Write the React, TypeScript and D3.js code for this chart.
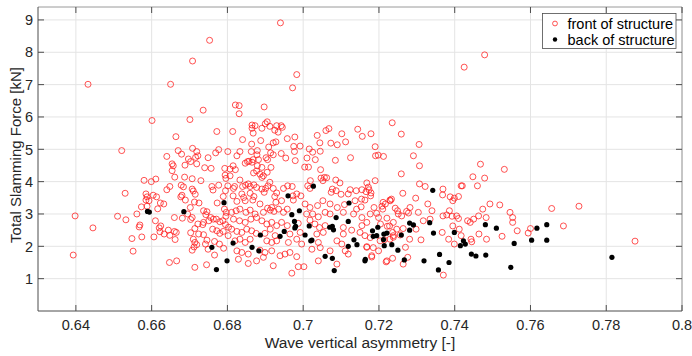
import React from "react";
import * as d3 from "d3";

const xDomain: [number, number] = [0.63, 0.8];
const yDomain: [number, number] = [0, 9.4];
const xTicks = [0.64, 0.66, 0.68, 0.7, 0.72, 0.74, 0.76, 0.78, 0.8];
const yTicks = [1, 2, 3, 4, 5, 6, 7, 8, 9];
const xLabel = "Wave vertical asymmetry [-]";
const yLabel = "Total Slamming Force [kN]";
const seriesNames = ["front of structure", "back of structure"];

// front of structure (red open circles): [asymmetry, force]
const frontData: [number, number][] = [
  [0.6940, 8.91], [0.6753, 8.37], [0.6708, 7.73], [0.6432, 7.01], [0.6650, 7.01], [0.6983, 7.31], [0.6972, 6.90],
  [0.7479, 7.92], [0.7425, 7.54], [0.6736, 6.21], [0.6601, 5.89], [0.6821, 6.37], [0.6831, 6.35], [0.6831, 6.10],
  [0.6897, 6.31], [0.6701, 5.92], [0.6664, 5.39], [0.6521, 4.96], [0.6772, 5.55], [0.6814, 5.55], [0.6865, 5.75],
  [0.6865, 5.65], [0.6840, 5.30],
  [0.6670, 4.96], [0.6679, 4.85], [0.6708, 5.03], [0.6719, 4.93], [0.6722, 4.80], [0.6716, 4.75], [0.6749, 4.74],
  [0.6769, 4.89], [0.6777, 4.99], [0.6801, 4.93], [0.6640, 4.78], [0.6697, 4.70], [0.6703, 4.62], [0.6654, 4.55],
  [0.6657, 4.49], [0.6654, 4.34], [0.6688, 4.51], [0.6719, 4.55], [0.6740, 4.43], [0.6757, 4.41], [0.6793, 4.41],
  [0.6661, 4.14], [0.6687, 4.14], [0.6707, 4.09], [0.6730, 4.03], [0.6794, 4.20], [0.6796, 4.10], [0.6580, 4.04],
  [0.6599, 4.00], [0.6611, 4.08], [0.6648, 3.85], [0.6640, 3.75], [0.6678, 3.89], [0.6684, 3.84], [0.6707, 3.77],
  [0.6715, 3.61], [0.6710, 3.71], [0.6759, 3.85], [0.6762, 3.74], [0.6777, 3.89], [0.6789, 3.54], [0.6795, 3.72],
  [0.6801, 3.87], [0.6530, 3.64], [0.6588, 3.53], [0.6604, 3.58], [0.6613, 3.53], [0.6680, 3.58], [0.6677, 3.53],
  [0.6585, 3.62], [0.6585, 3.43], [0.6593, 3.41], [0.6623, 3.34], [0.6632, 3.31], [0.6573, 3.22], [0.6588, 3.24],
  [0.6616, 3.16], [0.6689, 3.43], [0.6702, 3.20], [0.6713, 3.37], [0.6725, 3.34], [0.6737, 3.10], [0.6746, 3.07],
  [0.6743, 2.98], [0.6773, 3.34], [0.6792, 3.15], [0.6797, 3.05], [0.6796, 2.93], [0.6398, 2.94], [0.6445, 2.57],
  [0.6393, 1.73], [0.6510, 2.93], [0.6532, 2.82], [0.6561, 3.00], [0.6569, 2.66], [0.6567, 2.60], [0.6610, 2.79],
  [0.6624, 2.63], [0.6620, 2.57], [0.6548, 2.24], [0.6574, 2.29], [0.6606, 2.29], [0.6551, 1.85], [0.6647, 1.50],
  [0.6666, 1.55], [0.6644, 2.50], [0.6622, 2.45], [0.6633, 2.38], [0.6660, 2.46], [0.6665, 2.43], [0.6648, 2.34],
  [0.6662, 2.21], [0.6660, 2.89], [0.6681, 2.87], [0.6695, 3.00], [0.6703, 2.83], [0.6707, 2.89], [0.6722, 2.69],
  [0.6735, 2.67], [0.6737, 2.74], [0.6751, 2.79], [0.6703, 2.42], [0.6714, 2.55], [0.6724, 2.38], [0.6737, 2.36],
  [0.6710, 2.22], [0.6714, 2.12], [0.6719, 2.05], [0.6712, 1.98], [0.6707, 1.88], [0.6742, 2.07], [0.6749, 1.91],
  [0.6763, 2.84], [0.6756, 2.89], [0.6771, 2.84], [0.6780, 2.76], [0.6788, 2.79], [0.6795, 2.67], [0.6803, 2.59],
  [0.6761, 2.53], [0.6772, 2.48], [0.6780, 2.40], [0.6789, 2.46], [0.6802, 2.33], [0.6746, 2.19], [0.6766, 2.15],
  [0.6779, 2.07], [0.6790, 1.94], [0.6766, 1.73], [0.6745, 1.43], [0.6714, 1.35],
  [0.7235, 5.82], [0.6873, 5.73], [0.6868, 5.50], [0.6900, 5.79], [0.6905, 5.85], [0.6912, 5.71], [0.6930, 5.73],
  [0.6942, 5.73], [0.6945, 5.68], [0.6934, 5.53], [0.6925, 5.59], [0.6891, 5.65], [0.6864, 5.16], [0.6888, 5.27],
  [0.6909, 5.07], [0.6921, 5.20], [0.6928, 5.23], [0.6958, 5.33], [0.6978, 5.38], [0.6992, 5.10], [0.6975, 5.09],
  [0.6977, 4.93], [0.7037, 5.43], [0.7060, 5.58], [0.7068, 5.64], [0.7102, 5.48], [0.7044, 5.20], [0.7073, 5.19],
  [0.7090, 5.14], [0.7112, 5.23], [0.7144, 5.62], [0.7156, 5.40], [0.7179, 5.48], [0.7016, 5.01], [0.7025, 4.91],
  [0.7045, 4.94], [0.7032, 4.68], [0.7010, 4.73], [0.7004, 4.45], [0.7014, 4.45], [0.7085, 4.66], [0.7125, 4.74],
  [0.7191, 4.80], [0.7198, 4.82], [0.7212, 4.78], [0.6942, 4.87], [0.6954, 4.73], [0.6979, 4.65], [0.6914, 4.89],
  [0.6921, 4.83], [0.6902, 4.74], [0.6906, 4.68], [0.6879, 4.96], [0.6878, 4.83], [0.6863, 4.93], [0.6868, 4.68],
  [0.6865, 4.60], [0.6857, 4.63], [0.6847, 4.57], [0.6853, 4.62], [0.6833, 4.93], [0.6825, 4.80], [0.6815, 4.49],
  [0.6821, 4.37], [0.6807, 4.39], [0.6882, 4.68], [0.6879, 4.49], [0.6891, 4.44], [0.6915, 4.44], [0.6905, 4.29],
  [0.6891, 4.13], [0.6886, 4.23], [0.6895, 4.18], [0.6877, 4.33], [0.6869, 4.27], [0.6833, 4.05], [0.6807, 4.18],
  [0.6912, 3.98], [0.6907, 3.87], [0.7019, 4.03], [0.7046, 4.37], [0.7047, 4.11], [0.7056, 4.13], [0.7062, 4.12],
  [0.7052, 4.03], [0.7086, 4.05], [0.7097, 3.96], [0.7168, 3.96], [0.7190, 4.03], [0.7172, 3.83], [0.7174, 3.75],
  [0.7166, 3.69], [0.7179, 3.65], [0.7178, 3.56], [0.7124, 3.75], [0.7140, 3.72], [0.7155, 3.75], [0.7077, 3.77],
  [0.7087, 3.72], [0.7074, 3.67], [0.7100, 3.61], [0.7119, 3.62], [0.7012, 3.87], [0.7018, 3.79], [0.6948, 3.79],
  [0.6971, 3.85], [0.6959, 3.87], [0.6921, 3.79], [0.6930, 3.65], [0.6925, 3.54], [0.6891, 3.77], [0.6901, 3.79],
  [0.6897, 3.67], [0.6877, 3.82], [0.6860, 3.85], [0.6855, 3.93], [0.6848, 3.89], [0.6870, 3.90], [0.6819, 3.85],
  [0.6816, 3.79], [0.6840, 3.85], [0.6838, 3.62], [0.6843, 3.51], [0.6860, 3.64], [0.6870, 3.54], [0.6815, 3.56],
  [0.6973, 3.56], [0.6994, 3.56], [0.6983, 3.62],
  [0.7259, 5.47], [0.7306, 5.15], [0.7291, 4.80], [0.7307, 4.49], [0.7259, 4.24], [0.7468, 4.54], [0.7531, 4.38],
  [0.7448, 4.15], [0.7479, 4.11], [0.7460, 3.87], [0.7417, 3.87], [0.7420, 3.87], [0.7307, 3.93], [0.7322, 3.85],
  [0.7369, 3.77], [0.7368, 3.59], [0.7388, 3.53], [0.7410, 3.54], [0.7399, 3.49], [0.7263, 3.64], [0.7297, 3.49],
  [0.7190, 5.08], [0.7233, 3.46], [0.7395, 3.41],
  [0.6825, 3.39], [0.6847, 3.41], [0.6867, 3.43], [0.6886, 3.31], [0.6906, 3.18], [0.6917, 3.20], [0.6928, 3.36],
  [0.6943, 3.41], [0.6974, 3.43], [0.7005, 3.31], [0.7018, 3.20], [0.7038, 3.26], [0.7052, 3.41], [0.7071, 3.31],
  [0.7090, 3.20], [0.7109, 3.29], [0.7137, 3.41], [0.7153, 3.22], [0.7163, 3.43], [0.7141, 3.15], [0.7187, 3.20],
  [0.7210, 3.15], [0.7229, 3.43], [0.7243, 3.18], [0.7251, 3.00],
  [0.6811, 3.05], [0.6823, 3.10], [0.6833, 3.15], [0.6849, 3.05], [0.6860, 3.12], [0.6873, 3.00], [0.6895, 3.05],
  [0.6913, 3.12], [0.6923, 3.08], [0.6935, 3.15], [0.6948, 3.05], [0.6958, 3.15], [0.7009, 3.00], [0.7025, 3.00],
  [0.7040, 2.91], [0.7058, 3.05], [0.7071, 3.00], [0.7106, 3.05], [0.7133, 3.00], [0.7155, 2.89], [0.7177, 3.00],
  [0.7199, 2.89], [0.7221, 2.87], [0.7238, 2.74],
  [0.6816, 2.84], [0.6832, 2.79], [0.6847, 2.74], [0.6862, 2.84], [0.6877, 2.89], [0.6891, 2.79], [0.6904, 2.69],
  [0.6917, 2.74], [0.6930, 2.64], [0.6943, 2.74], [0.6958, 2.64], [0.6987, 2.71], [0.7018, 2.81], [0.7031, 2.69],
  [0.7043, 2.58], [0.7058, 2.64], [0.7106, 2.58], [0.7128, 2.50], [0.7155, 2.64], [0.7168, 2.74], [0.7247, 2.53],
  [0.6811, 2.53], [0.6825, 2.46], [0.6838, 2.43], [0.6851, 2.53], [0.6864, 2.48], [0.6876, 2.40], [0.6899, 2.40],
  [0.6913, 2.53], [0.6926, 2.33], [0.6965, 2.38], [0.6992, 2.43], [0.7036, 2.38], [0.7053, 2.43], [0.7106, 2.38],
  [0.7150, 2.43], [0.7163, 2.33], [0.7177, 2.27], [0.7238, 2.33],
  [0.6820, 2.17], [0.6833, 2.22], [0.6847, 2.12], [0.6860, 2.22], [0.6904, 2.17], [0.6917, 2.12], [0.6930, 2.17],
  [0.6961, 2.12], [0.6983, 2.22], [0.6996, 2.07], [0.7040, 2.12], [0.7089, 2.17], [0.7102, 2.07], [0.7168, 1.99],
  [0.7185, 1.96], [0.7203, 2.17], [0.7229, 2.22],
  [0.6825, 1.86], [0.6838, 1.81], [0.6855, 1.76], [0.6886, 1.88], [0.6899, 1.81], [0.6917, 1.86], [0.6939, 1.71],
  [0.6952, 1.76], [0.6965, 1.81], [0.6983, 1.68], [0.7023, 1.91], [0.7045, 1.96], [0.7071, 1.86], [0.7111, 1.86],
  [0.7119, 1.76], [0.7181, 1.71], [0.7199, 1.86], [0.7236, 1.63],
  [0.6829, 1.60], [0.6855, 1.47], [0.6877, 1.55], [0.6895, 1.66], [0.6921, 1.40], [0.6970, 1.17], [0.6987, 1.37],
  [0.7002, 1.37], [0.7040, 1.55], [0.7089, 1.45], [0.7221, 1.55],
  [0.7154, 3.46], [0.7208, 3.24], [0.7211, 3.36], [0.7217, 3.31], [0.7230, 3.41], [0.7194, 3.02], [0.7204, 2.69],
  [0.7222, 2.62], [0.7249, 3.10], [0.7260, 2.94], [0.7273, 3.08], [0.7282, 3.20], [0.7329, 3.31], [0.7340, 3.10],
  [0.7335, 2.84], [0.7317, 2.79], [0.7304, 3.05], [0.7278, 3.03], [0.7298, 2.53], [0.7264, 2.55], [0.7281, 2.22],
  [0.7270, 1.97], [0.7256, 2.35], [0.7236, 2.43], [0.7228, 2.63], [0.7214, 2.20], [0.7238, 2.28], [0.7168, 1.97],
  [0.7181, 1.67], [0.7219, 1.52], [0.7264, 1.45], [0.7276, 1.66], [0.7311, 2.20], [0.7369, 2.94], [0.7379, 2.97],
  [0.7386, 3.10], [0.7393, 2.93], [0.7405, 2.94], [0.7410, 2.86], [0.7395, 2.63], [0.7412, 2.53], [0.7417, 2.33],
  [0.7384, 2.22], [0.7399, 2.07], [0.7434, 2.79], [0.7441, 2.74], [0.7450, 2.84], [0.7463, 2.94], [0.7474, 3.15],
  [0.7483, 2.89], [0.7493, 3.31], [0.7519, 3.28], [0.7546, 3.05], [0.7553, 2.89], [0.7553, 2.74], [0.7525, 2.31],
  [0.7484, 2.22], [0.7443, 2.22], [0.7445, 2.14], [0.7464, 2.38], [0.7370, 1.11], [0.7367, 2.43], [0.7565, 2.48],
  [0.7594, 2.41], [0.7600, 2.55], [0.7656, 3.17], [0.7728, 3.24], [0.7687, 2.63], [0.7876, 2.16],
];

// back of structure (black filled dots)
const backData: [number, number][] = [
  [0.6589, 3.08], [0.6594, 3.06], [0.6685, 3.07], [0.6791, 3.35], [0.6759, 1.97], [0.6771, 1.28], [0.6799, 1.55],
  [0.6815, 2.10], [0.6865, 1.97], [0.6883, 1.86], [0.6887, 2.35], [0.6939, 2.31], [0.6950, 2.46], [0.6960, 3.56],
  [0.6970, 2.98], [0.6977, 2.77], [0.6980, 2.62], [0.6978, 2.57], [0.6990, 3.10], [0.7005, 2.35], [0.7016, 2.63],
  [0.7023, 2.19], [0.7020, 2.17], [0.7027, 3.86], [0.7058, 1.69], [0.7077, 1.63], [0.7082, 1.25], [0.7070, 2.59],
  [0.7077, 2.62], [0.7080, 2.51], [0.7087, 2.89], [0.7119, 2.77], [0.7121, 3.34], [0.7134, 2.20], [0.7119, 2.00],
  [0.7142, 2.05], [0.7164, 1.60], [0.7163, 1.55], [0.7183, 2.48], [0.7197, 2.59], [0.7194, 2.33], [0.7185, 2.31],
  [0.7213, 2.38], [0.7221, 2.41], [0.7212, 2.21], [0.7214, 2.02], [0.7234, 2.05], [0.7250, 1.88], [0.7281, 2.72],
  [0.7291, 2.66], [0.7281, 2.50], [0.7259, 2.35], [0.7267, 1.58], [0.7319, 1.55], [0.7342, 3.73], [0.7360, 1.75],
  [0.7357, 1.27], [0.7385, 1.50], [0.7344, 2.41], [0.7334, 2.73], [0.7399, 2.43], [0.7423, 2.17], [0.7415, 2.02],
  [0.7428, 2.07], [0.7444, 1.76], [0.7456, 1.70], [0.7482, 1.73], [0.7481, 2.67], [0.7510, 2.56], [0.7557, 2.09],
  [0.7548, 1.35], [0.7617, 2.56], [0.7643, 2.67], [0.7603, 2.19], [0.7643, 2.19], [0.7815, 1.66],
];

const FONT = "'Liberation Sans', Arial, Helvetica, sans-serif";
const TEXT = "#262626";
const AXIS = "#4d4d4d";
const GRID = "#e4e4e4";

export default function App() {
  const W = 692;
  const H = 356;
  const L = 38, R = 682, T = 7, B = 311;
  const x = d3.scaleLinear().domain(xDomain).range([L, R]);
  const y = d3.scaleLinear().domain(yDomain).range([B, T]);
  const tickLen = 6;
  const fmt = (v: number) => String(+v.toFixed(2));

  return (
    <svg width={W} height={H} style={{ position: "absolute", left: 0, top: 0, background: "#fff" }} fontFamily={FONT}>
      <rect x={0} y={0} width={W} height={H} fill="#fff" />
      {/* grid */}
      {xTicks.map((t) => (
        <line key={"gx" + t} x1={x(t)} x2={x(t)} y1={T} y2={B} stroke={GRID} strokeWidth={1} />
      ))}
      {yTicks.map((t) => (
        <line key={"gy" + t} x1={L} x2={R} y1={y(t)} y2={y(t)} stroke={GRID} strokeWidth={1} />
      ))}
      {/* points */}
      {frontData.map((d, i) => (
        <circle key={"f" + i} cx={x(d[0])} cy={y(d[1])} r={3} fill="none" stroke="#ff1a1a" strokeWidth={0.75} />
      ))}
      {backData.map((d, i) => (
        <circle key={"b" + i} cx={x(d[0])} cy={y(d[1])} r={2.6} fill="#000" />
      ))}
      {/* box */}
      <line x1={L} x2={R} y1={T} y2={T} stroke="#9a9a9a" strokeWidth={1} />
      <line x1={R} x2={R} y1={T} y2={B} stroke="#9a9a9a" strokeWidth={1} />
      <line x1={L} x2={L} y1={T} y2={B} stroke={AXIS} strokeWidth={1} />
      <line x1={L} x2={R} y1={B} y2={B} stroke={AXIS} strokeWidth={1} />
      {/* ticks */}
      {xTicks.map((t) => (
        <g key={"tx" + t}>
          <line x1={x(t)} x2={x(t)} y1={B} y2={B - tickLen} stroke={AXIS} strokeWidth={1} />
          <line x1={x(t)} x2={x(t)} y1={T} y2={T + tickLen} stroke={AXIS} strokeWidth={1} />
          <text x={x(t)} y={330} textAnchor="middle" fontSize={14.5} fill={TEXT}>{fmt(t)}</text>
        </g>
      ))}
      {yTicks.map((t) => (
        <g key={"ty" + t}>
          <line x1={L} x2={L + tickLen} y1={y(t)} y2={y(t)} stroke={AXIS} strokeWidth={1} />
          <line x1={R} x2={R - tickLen} y1={y(t)} y2={y(t)} stroke={AXIS} strokeWidth={1} />
          <text x={33} y={y(t)} dy="0.36em" textAnchor="end" fontSize={14.5} fill={TEXT}>{fmt(t)}</text>
        </g>
      ))}
      {/* axis titles */}
      <text x={(L + R) / 2} y={348} textAnchor="middle" fontSize={15.5} fill={TEXT}>{xLabel}</text>
      <text transform={`translate(21,155) rotate(-90)`} textAnchor="middle" fontSize={15} fill={TEXT}>{yLabel}</text>
      {/* legend */}
      <g>
        <rect x={542.5} y={13.5} width={133.5} height={35} fill="#fff" stroke={AXIS} strokeWidth={0.8} />
        <circle cx={555} cy={23.5} r={2.4} fill="none" stroke="#ff1a1a" strokeWidth={0.75} />
        <text x={567.5} y={23.5} dy="0.36em" fontSize={14.5} fill="#000">{seriesNames[0]}</text>
        <circle cx={555} cy={39.5} r={2.2} fill="#000" />
        <text x={567.5} y={39.5} dy="0.36em" fontSize={14.5} fill="#000">{seriesNames[1]}</text>
      </g>
    </svg>
  );
}
